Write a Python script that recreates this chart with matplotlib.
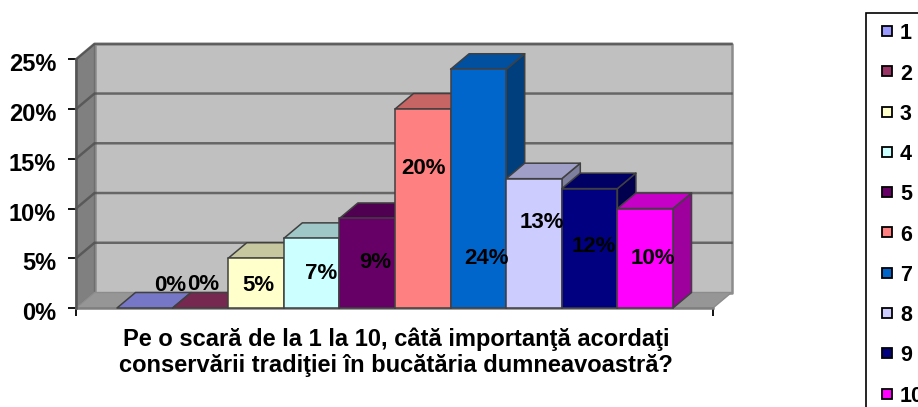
import matplotlib
matplotlib.use("Agg")
import matplotlib.pyplot as plt
from matplotlib.legend_handler import HandlerPatch
from matplotlib.patches import Polygon, Rectangle
from matplotlib.transforms import ScaledTranslation

plt.rcParams['font.family'] = ['Liberation Sans', 'DejaVu Sans']
plt.rcParams['font.weight'] = 'bold'

# data
categories = ['1', '2', '3', '4', '5', '6', '7', '8', '9', '10']
values = [0, 0, 5, 7, 9, 20, 24, 13, 12, 10]
colors = ['#9999FF', '#993366', '#FFFFCC', '#CCFFFF', '#660066',
          '#FF8080', '#0066CC', '#CCCCFF', '#000080', '#FF00FF']
y_ticks = [0, 5, 10, 15, 20, 25]
title = 'Pe o scară de la 1 la 10, câtă importanţă acordaţi\nconservării tradiţiei în bucătăria dumneavoastră?'

# where the labels sit, the original has them placed oddly
label_dx = [0.45, 0.05, 0.05, 0.18, 0.14, 0.02, 0.14, 0.14, 0.07, 0.13]
label_y = [2.3, 2.4, 2.3, 3.5, 4.6, 14.0, 5.0, 8.6, 6.2, 5.0]

W, H = 918, 407
fig = plt.figure(figsize=(W / 100, H / 100), dpi=100)
left, right, top, bottom = 76, 713, 59.3, 308
ax = fig.add_axes([left / W, 1 - bottom / H, (right - left) / W, (bottom - top) / H])

slot = 55.6  # pixels per bar
xmax = (right - left) / slot
ax.set_xlim(0, xmax)
ax.set_ylim(0, 25)
ax.patch.set_alpha(0)
for s in ax.spines.values():
    s.set_visible(False)

dx = 18.5 / slot
dy = 15.5 / ((bottom - top) / 25)
first = 41 / slot


def poly(pts, fc, ec='none', lw=0.0, z=1):
    ax.add_patch(Polygon(pts, closed=True, facecolor=fc, edgecolor=ec, linewidth=lw,
                         clip_on=False, zorder=z, joinstyle='round'))


def shade(c, f):
    rgb = matplotlib.colors.to_rgb(c)
    return tuple(v * f for v in rgb)


def legend_square(legend, orig_handle, xdescent, ydescent, width, height, fontsize):
    side = 7.2
    return Rectangle((width - side, (height - side) / 2 + 0.5), side, side)


# walls and floor
poly([(dx, dy), (xmax + dx, dy), (xmax + dx, 25 + dy), (dx, 25 + dy)], '#C0C0C0', '#8c8c8c', 1.8)
poly([(0, 0), (dx, dy), (dx, 25 + dy), (0, 25)], '#808080', '#6e6e6e', 1.0)
poly([(0, 0), (xmax, 0), (xmax + dx, dy), (dx, dy)], '#969696', '#8c8c8c', 1.0)
for t in y_ticks[1:]:
    ax.plot([0, dx, xmax + dx], [t, t + dy, t + dy], color='#505050', lw=1.8, alpha=0.8,
            clip_on=False, zorder=2)

# bars, left to right so the next front covers the side before it
edge = '#404040'
for i, v in enumerate(values):
    x0 = first + i
    x1 = x0 + 1
    z = 3 + i
    poly([(x1, 0), (x1 + dx, dy), (x1 + dx, v + dy), (x1, v)], shade(colors[i], 0.62), edge, 1.1, z)
    poly([(x0, v), (x1, v), (x1 + dx, v + dy), (x0 + dx, v + dy)], shade(colors[i], 0.78), edge, 1.1, z)
    if v > 0:
        ax.add_patch(Rectangle((x0, 0), 1, v, facecolor=colors[i], edgecolor=edge, linewidth=1.1,
                               clip_on=False, zorder=z))

for i, v in enumerate(values):
    ax.text(first + i + 0.5 + label_dx[i], label_y[i], f'{v}%', ha='center', va='center',
            fontsize=16, fontweight='bold', color='black', zorder=30)

# axes
ax.plot([0, xmax], [0, 0], color='#7f7f7f', lw=1.8, clip_on=False, zorder=2)
ax.plot([0, 0], [0, 25], color='#555555', lw=1.8, clip_on=False, zorder=2)
ax.set_yticks(y_ticks)
ax.set_yticklabels([f'{t}%' for t in y_ticks], fontsize=17, fontweight='bold')
ax.tick_params(axis='y', length=5.8, width=1.3, pad=8.5, color='black')
ax.set_xticks([0, xmax])
ax.set_xticklabels(['', ''])
ax.tick_params(axis='x', length=6, width=1.3, color='black')
shift = ScaledTranslation(0, -3 / 100, fig.dpi_scale_trans)
for lab in ax.get_yticklabels():
    lab.set_transform(lab.get_transform() + shift)

fig.text(396 / W, 1 - 352.5 / H, title, ha='center', va='center', fontsize=17,
         fontweight='bold', linespacing=1.16)

# legend, runs off the page like the original
handles = [Rectangle((0, 0), 1, 1, facecolor=c, edgecolor='black', linewidth=1.3) for c in colors]
leg = fig.legend(handles, categories, loc='upper left', bbox_to_anchor=(866 / W, 1 - 13 / H),
                 bbox_transform=fig.transFigure, borderaxespad=0, frameon=True,
                 fancybox=False, edgecolor='black', facecolor='white', framealpha=1,
                 borderpad=0.48, labelspacing=0.895, handlelength=0.72, handleheight=0.7,
                 handletextpad=0.38, prop={'size': 15.5, 'weight': 'bold'},
                 handler_map={Rectangle: HandlerPatch(patch_func=legend_square)})
leg.get_frame().set_linewidth(1.2)

fig.savefig('out.png', dpi=100)
